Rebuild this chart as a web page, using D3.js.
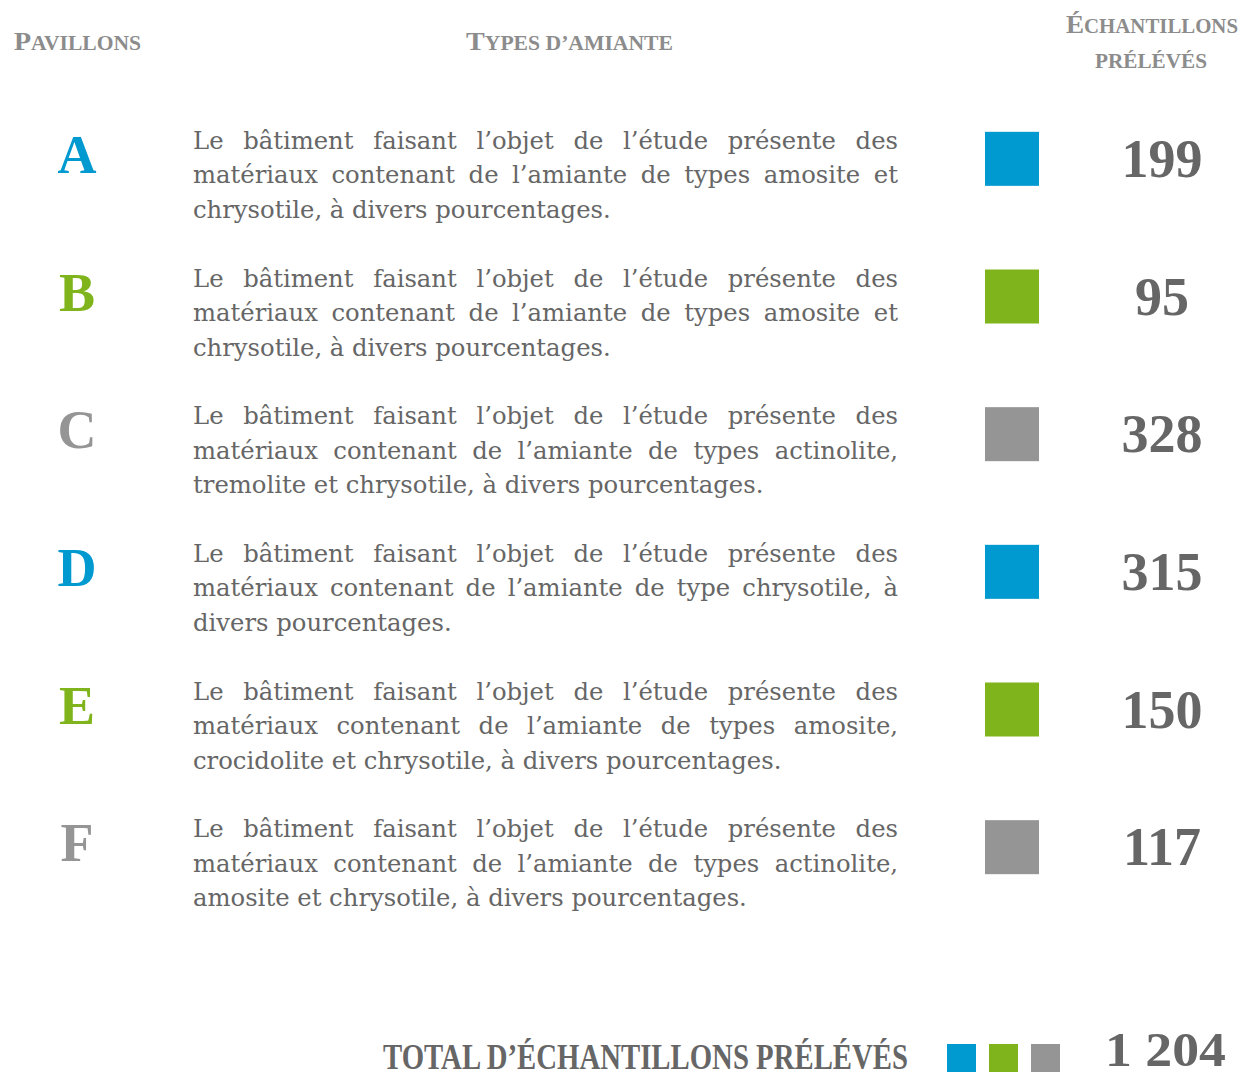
<!DOCTYPE html>
<html lang="fr">
<head>
<meta charset="UTF-8" />
<script src="https://d3js.org/d3.v7.min.js"></script>
<style>
  body { margin: 0; background: #fff; }
  text { font-family: "Liberation Serif", "DejaVu Serif", serif; }
  text.corps { font-family: "DejaVu Serif", serif; }
</style>
</head>
<body>
<svg width="1250" height="1078"></svg>
<script>
// données
const pavillons = ["A", "B", "C", "D", "E", "F"];
const echantillons = [199, 95, 328, 315, 150, 117];
const groupes = ["bleu", "vert", "gris", "bleu", "vert", "gris"];
const descriptions = [
  ["Le bâtiment faisant l’objet de l’étude présente des",
   "matériaux contenant de l’amiante de types amosite et",
   "chrysotile, à divers pourcentages."],
  ["Le bâtiment faisant l’objet de l’étude présente des",
   "matériaux contenant de l’amiante de types amosite et",
   "chrysotile, à divers pourcentages."],
  ["Le bâtiment faisant l’objet de l’étude présente des",
   "matériaux contenant de l’amiante de types actinolite,",
   "tremolite et chrysotile, à divers pourcentages."],
  ["Le bâtiment faisant l’objet de l’étude présente des",
   "matériaux contenant de l’amiante de type chrysotile, à",
   "divers pourcentages."],
  ["Le bâtiment faisant l’objet de l’étude présente des",
   "matériaux contenant de l’amiante de types amosite,",
   "crocidolite et chrysotile, à divers pourcentages."],
  ["Le bâtiment faisant l’objet de l’étude présente des",
   "matériaux contenant de l’amiante de types actinolite,",
   "amosite et chrysotile, à divers pourcentages."]
];
const totalLabel = "TOTAL D’ÉCHANTILLONS PRÉLÉVÉS";

const svg = d3.select("svg");
const couleur = d3.scaleOrdinal()
  .domain(["bleu", "vert", "gris"])
  .range(["#0099d0", "#80b41c", "#959595"]);

const y = d3.scaleBand().domain(pavillons).range([86, 912]);
const half = y.bandwidth() / 2;
const textX = 193, textW = 705;

// taille du corps : la dernière ligne de A fait ~418px de large
const probe = svg.append("text").attr("class", "corps")
  .attr("font-size", 100).text(descriptions[0][2]);
const bodySize = 100 * 418 / probe.node().getComputedTextLength();
probe.remove();

// en-têtes (petites capitales)
function smallCaps(sel, first, rest, x, yy, big, small, len) {
  const t = sel.append("text")
    .attr("x", x).attr("y", yy)
    .attr("fill", "#8c8c8c").attr("font-weight", "bold")
    .attr("textLength", len).attr("lengthAdjust", "spacingAndGlyphs");
  t.append("tspan").attr("font-size", big).text(first);
  t.append("tspan").attr("font-size", small).text(rest);
  return t;
}
smallCaps(svg, "P", "AVILLONS", 14, 50, 26, 20, 127);
smallCaps(svg, "T", "YPES D’AMIANTE", 466, 50, 26, 20, 207);
smallCaps(svg, "É", "CHANTILLONS", 1066, 33, 26, 20, 172);
smallCaps(svg, "", "PRÉLÉVÉS", 1095, 68, 26, 20, 112);

const rows = svg.selectAll("g.row")
  .data(pavillons.map((p, i) => ({
    p, n: echantillons[i], g: groupes[i], lines: descriptions[i]
  })))
  .join("g")
  .attr("class", "row")
  .attr("transform", d => `translate(0,${y(d.p) + half})`);

rows.append("text")
  .attr("x", 77).attr("y", 18)
  .attr("text-anchor", "middle")
  .attr("font-size", 54).attr("font-weight", "bold")
  .attr("fill", d => couleur(d.g))
  .text(d => d.p);

rows.append("rect")
  .attr("x", 985).attr("y", -23)
  .attr("width", 54).attr("height", 54)
  .attr("fill", d => couleur(d.g));

rows.append("text")
  .attr("x", 1162).attr("y", 22)
  .attr("text-anchor", "middle")
  .attr("font-size", 54).attr("font-weight", "bold")
  .attr("fill", "#666")
  .text(d => d.n);

// texte justifié
rows.each(function(d) {
  const g = d3.select(this);
  d.lines.forEach((line, li) => {
    const by = -6 + li * 34.5;
    const t = g.append("text").attr("class", "corps")
      .attr("y", by).attr("font-size", bodySize).attr("fill", "#666");
    const words = line.split(" ");
    const last = li === d.lines.length - 1;
    if (last) {
      t.attr("x", textX).text(line);
      return;
    }
    const spans = words.map(w => t.append("tspan").text(w));
    const widths = spans.map(s => s.node().getComputedTextLength());
    const gap = (textW - d3.sum(widths)) / (words.length - 1);
    let x = textX;
    spans.forEach((s, k) => {
      s.attr("x", x);
      x += widths[k] + gap;
    });
  });
});

// total
const total = d3.sum(echantillons);
svg.append("text")
  .attr("x", 383).attr("y", 1069)
  .attr("font-size", 36).attr("font-weight", "bold")
  .attr("fill", "#666")
  .attr("textLength", 525).attr("lengthAdjust", "spacingAndGlyphs")
  .text(totalLabel);

const mini = d3.scalePoint().domain(["bleu", "vert", "gris"]).range([947, 1031]);
svg.selectAll("rect.mini")
  .data(couleur.domain())
  .join("rect")
  .attr("class", "mini")
  .attr("x", d => mini(d)).attr("y", 1044)
  .attr("width", 29).attr("height", 28)
  .attr("fill", d => couleur(d));

svg.append("text")
  .attr("x", 1105).attr("y", 1066)
  .attr("font-size", 48).attr("font-weight", "bold")
  .attr("fill", "#666")
  .attr("textLength", 121).attr("lengthAdjust", "spacingAndGlyphs")
  .text(d3.format(",")(total).replace(",", " "));
</script>
</body>
</html>
